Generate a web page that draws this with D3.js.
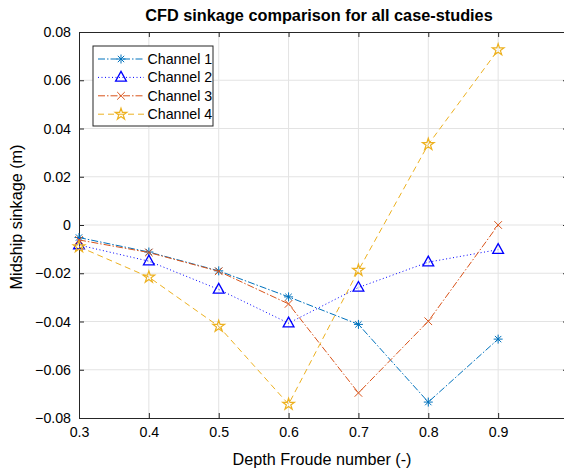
<!DOCTYPE html>
<html>
<head>
<meta charset="utf-8">
<script src="https://cdn.jsdelivr.net/npm/d3@7"></script>
<style>
  body { margin: 0; background: #fff; }
  svg { font-family: "Liberation Sans", Arial, sans-serif; display: block; }
</style>
</head>
<body>
<svg width="564" height="472"></svg>
<script>
'use strict';

// Data
const froude = [0.3, 0.4, 0.5, 0.6, 0.7, 0.8, 0.9];
const channel1 = [-0.0052, -0.0112, -0.0190, -0.0298, -0.0412, -0.0734, -0.0473];
const channel2 = [-0.0083, -0.0150, -0.0267, -0.0407, -0.0259, -0.0154, -0.0102];
const channel3 = [-0.0062, -0.0114, -0.0192, -0.0327, -0.0696, -0.0399, 0.0000];
const channel4 = [-0.0090, -0.0216, -0.0420, -0.0743, -0.0188, 0.0334, 0.0726];
const seriesNames = ['Channel 1', 'Channel 2', 'Channel 3', 'Channel 4'];
const xTicks = [0.3, 0.4, 0.5, 0.6, 0.7, 0.8, 0.9];
const yTicks = [-0.08, -0.06, -0.04, -0.02, 0, 0.02, 0.04, 0.06, 0.08];

const styles = [
  { color: '#0072BD', dash: '7,2,1.5,2', marker: 'asterisk' },
  { color: '#0000FF', dash: '1,2.5', marker: 'triangle' },
  { color: '#D95319', dash: '7,2,1.5,2', marker: 'cross' },
  { color: '#EDB120', dash: '6,4', marker: 'star' },
];

const margin = { left: 79, top: 32, right: 568, bottom: 418 };
const svg = d3.select('svg');

const x = d3.scaleLinear().domain([0.3, 1.0]).range([margin.left, margin.right]);
const y = d3.scaleLinear().domain([-0.08, 0.08]).range([margin.bottom, margin.top]);

const fmtY = v => (v === 0 ? '0' : d3.format('.2f')(v));

// Grid
const grid = svg.append('g').attr('class', 'grid');
grid.selectAll('line.gx')
  .data(xTicks.slice(1))
  .enter().append('line')
  .attr('x1', d => x(d)).attr('x2', d => x(d))
  .attr('y1', margin.top).attr('y2', margin.bottom)
  .attr('stroke', '#e3e3e3').attr('stroke-width', 1);
grid.selectAll('line.gy')
  .data(yTicks.slice(1, -1))
  .enter().append('line')
  .attr('y1', d => y(d)).attr('y2', d => y(d))
  .attr('x1', margin.left).attr('x2', margin.right)
  .attr('stroke', '#e3e3e3').attr('stroke-width', 1);

// Axes (MATLAB style: ticks inside, box on)
const axisColor = '#262626';
const bottomAxis = d3.axisBottom(x).tickValues(xTicks).tickSizeInner(-5).tickSizeOuter(0)
  .tickPadding(9).tickFormat(d3.format('.1f'));
const leftAxis = d3.axisLeft(y).tickValues(yTicks).tickSizeInner(-5).tickSizeOuter(0)
  .tickPadding(8).tickFormat(fmtY);
const topAxis = d3.axisTop(x).tickValues(xTicks).tickSizeInner(-5).tickSizeOuter(0).tickFormat('');
const rightAxis = d3.axisRight(y).tickValues(yTicks).tickSizeInner(-5).tickSizeOuter(0).tickFormat('');

function styleAxis(g) {
  g.select('.domain').attr('stroke', axisColor);
  g.selectAll('.tick line').attr('stroke', axisColor);
  g.selectAll('.tick text').attr('fill', '#000').attr('font-size', 14.2)
    .attr('font-family', '"Liberation Sans", Arial, sans-serif');
}

svg.append('g').attr('transform', `translate(0,${margin.bottom})`).call(bottomAxis).call(styleAxis);
svg.append('g').attr('transform', `translate(${margin.left},0)`).call(leftAxis).call(styleAxis);
svg.append('g').attr('transform', `translate(0,${margin.top})`).call(topAxis).call(styleAxis);
svg.append('g').attr('transform', `translate(${margin.right},0)`).call(rightAxis).call(styleAxis);

// Marker shapes
function drawMarker(g, type, color, cx, cy) {
  const m = g.append('g').attr('transform', `translate(${cx},${cy})`)
    .attr('fill', 'none').attr('stroke', color).attr('stroke-width', 1);
  if (type === 'asterisk') {
    const r = 4.5;
    [0, 45, 90, 135].forEach(a => {
      const t = a * Math.PI / 180;
      m.append('line')
        .attr('x1', -r * Math.cos(t)).attr('y1', -r * Math.sin(t))
        .attr('x2', r * Math.cos(t)).attr('y2', r * Math.sin(t));
    });
  } else if (type === 'cross') {
    const r = 3.8;
    m.append('path').attr('d', `M${-r},${-r}L${r},${r}M${-r},${r}L${r},${-r}`);
  } else if (type === 'triangle') {
    const r = 6;
    m.append('path').attr('stroke-width', 1.3)
      .attr('d', `M0,${-r}L${r * 0.9},${r * 0.62}L${-r * 0.9},${r * 0.62}Z`);
  } else if (type === 'star') {
    m.append('path').attr('stroke-width', 1.2)
      .attr('d', d3.symbol().type(d3.symbolStar).size(42)());
  }
}

// Series
const allSeries = [channel1, channel2, channel3, channel4];
const line = d3.line().x((d, i) => x(froude[i])).y(d => y(d));
const plot = svg.append('g').attr('class', 'series');

allSeries.forEach((values, k) => {
  const s = styles[k];
  plot.append('path')
    .datum(values)
    .attr('d', line)
    .attr('fill', 'none')
    .attr('stroke', s.color)
    .attr('stroke-width', 1)
    .attr('stroke-dasharray', s.dash);
  values.forEach((v, i) => drawMarker(plot, s.marker, s.color, x(froude[i]), y(v)));
});

// Legend
const legend = svg.append('g').attr('transform', 'translate(93,46)');
legend.append('rect')
  .attr('width', 120).attr('height', 80)
  .attr('fill', '#fff').attr('stroke', axisColor).attr('stroke-width', 1);
seriesNames.forEach((name, k) => {
  const s = styles[k];
  const yy = 13 + k * 18.4;
  legend.append('line')
    .attr('x1', 5).attr('x2', 51).attr('y1', yy).attr('y2', yy)
    .attr('stroke', s.color).attr('stroke-width', 1).attr('stroke-dasharray', s.dash);
  drawMarker(legend, s.marker, s.color, 28, yy);
  legend.append('text')
    .attr('x', 54.5).attr('y', yy + 5)
    .attr('font-size', 14.2)
    .text(name);
});

// Title and labels
svg.append('text')
  .attr('x', 319).attr('y', 20.5)
  .attr('text-anchor', 'middle')
  .attr('font-weight', 'bold')
  .attr('font-size', 16.3)
  .text('CFD sinkage comparison for all case-studies');

svg.append('text')
  .attr('x', 322).attr('y', 465)
  .attr('text-anchor', 'middle')
  .attr('font-size', 16.2)
  .text('Depth Froude number (-)');

svg.append('text')
  .attr('transform', 'translate(22,217) rotate(-90)')
  .attr('text-anchor', 'middle')
  .attr('font-size', 16.2)
  .text('Midship sinkage (m)');
</script>
</body>
</html>
